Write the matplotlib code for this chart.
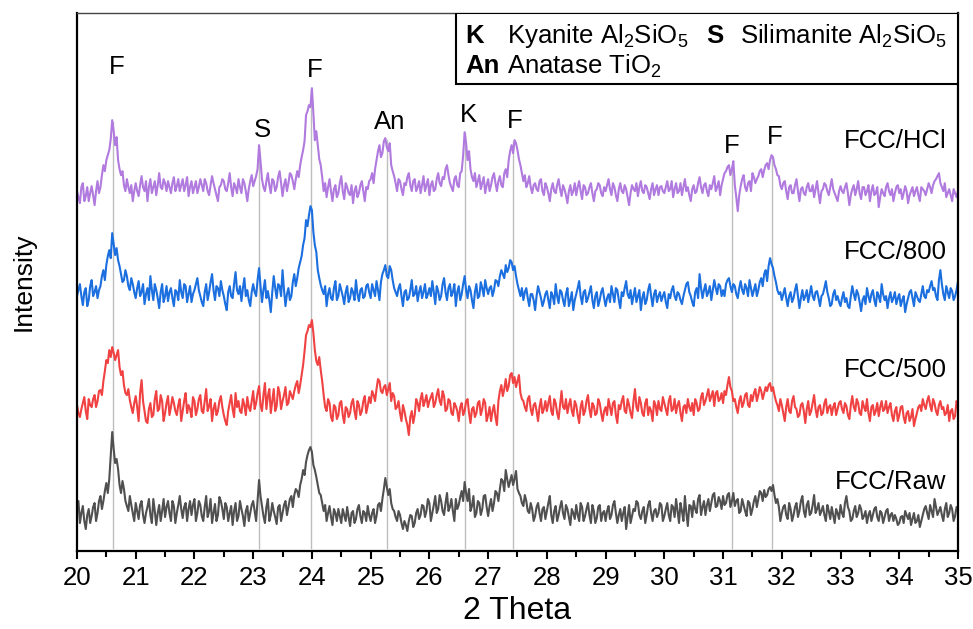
import numpy as np
import matplotlib
matplotlib.use("Agg")
import matplotlib.pyplot as plt
from matplotlib.patches import Rectangle

plt.rcParams['font.family'] = ['Liberation Sans', 'DejaVu Sans']
plt.rcParams['mathtext.fontset'] = 'custom'
plt.rcParams['mathtext.rm'] = 'Liberation Sans'

# 2 theta grid: readings at 20.00, 20.05 ... and the points in between (20.025, 20.075 ...)
two_theta = np.round(np.arange(20, 35.0001, 0.025), 3)

# intensities (arbitrary units), one row per degree
raw = [40, 28, 45, 22, 42, 35, 48, 38, 55, 50, 68, 72, 119, 88, 82, 58, 62, 45, 55, 38,
       48, 32, 50, 28, 44, 36, 52, 26, 46, 40, 34, 50, 30, 45, 38, 55, 33, 48, 42, 36,
       52, 38, 46, 30, 55, 40, 28, 47, 36, 50, 32, 44, 38, 26, 48, 35, 42, 25, 45, 38,
       50, 30, 71, 45, 28, 52, 36, 40, 27, 46, 38, 50, 44, 55, 56, 60, 66, 81, 89, 101,
       99, 81, 66, 56, 40, 30, 45, 26, 38, 42, 28, 36, 44, 25, 40, 32, 46, 28, 38, 45,
       30, 42, 35, 48, 52, 73, 56, 48, 40, 30, 36, 22, 26, 30, 35, 28, 42, 36, 45, 40,
       48, 38, 55, 42, 50, 36, 58, 44, 40, 52, 46, 60, 69, 50, 40, 55, 38, 48, 42, 56,
       35, 52, 48, 58, 62, 70, 81, 64, 76, 72, 62, 55, 45, 50, 38, 42, 35, 48, 30, 44,
       40, 55, 28, 45, 36, 50, 32, 42, 26, 38, 46, 30, 44, 35, 48, 28, 40, 33, 46, 38,
       30, 45, 36, 50, 28, 42, 38, 22, 46, 35, 40, 48, 32, 44, 36, 50, 30, 42, 38, 46,
       35, 48, 30, 44, 52, 28, 40, 55, 25, 45, 50, 38, 56, 44, 36, 52, 48, 58, 45, 50,
       55, 48, 58, 50, 45, 52, 40, 46, 35, 48, 42, 55, 52, 58, 61, 56, 64, 66, 48, 44,
       38, 46, 32, 42, 36, 48, 40, 55, 34, 50, 38, 56, 42, 36, 45, 30, 40, 44, 28, 38,
       46, 34, 55, 40, 32, 45, 38, 42, 35, 28, 40, 36, 44, 30, 38, 34, 42, 36, 30, 32,
       28, 35, 40, 32, 26, 38, 30, 24, 36, 45, 32, 40, 52, 36, 44, 30, 48, 38, 42, 35,
       40]
raw_mid = [50, 38, 30, 36, 28, 44, 30, 50, 42, 60, 58, 95, 102, 92, 66, 70, 50, 40, 46, 30,
           40, 46, 36, 38, 52, 28, 40, 38, 30, 52, 44, 38, 50, 28, 46, 42, 44, 30, 50, 46,
           30, 50, 35, 44, 34, 52, 38, 30, 54, 42, 48, 30, 45, 40, 30, 50, 35, 40, 30, 46,
           40, 50, 55, 35, 44, 30, 48, 34, 44, 30, 46, 36, 52, 44, 62, 54, 72, 76, 96, 104,
           86, 74, 58, 48, 46, 38, 34, 42, 30, 35, 42, 30, 34, 38, 28, 42, 35, 40, 30, 36,
           38, 28, 46, 40, 62, 64, 62, 42, 34, 40, 28, 30, 20, 36, 24, 38, 32, 46, 34, 52,
           30, 46, 38, 56, 40, 48, 40, 52, 30, 42, 54, 50, 58, 62, 45, 34, 50, 36, 55, 44,
           45, 40, 60, 50, 72, 60, 72, 70, 66, 80, 58, 48, 56, 40, 48, 30, 44, 38, 42, 32,
           48, 36, 40, 30, 44, 38, 46, 34, 42, 32, 36, 48, 30, 42, 36, 46, 28, 44, 30, 40,
           40, 32, 46, 38, 36, 30, 44, 34, 28, 42, 50, 36, 40, 28, 46, 38, 40, 34, 48, 30,
           42, 36, 46, 34, 40, 48, 30, 38, 46, 34, 42, 52, 36, 50, 46, 40, 56, 44, 54, 42,
           46, 56, 44, 58, 50, 38, 52, 40, 50, 36, 50, 44, 60, 50, 54, 62, 60, 56, 52, 30,
           44, 36, 48, 30, 44, 34, 50, 40, 46, 36, 46, 38, 48, 40, 36, 46, 32, 36, 42, 32,
           38, 48, 44, 30, 40, 34, 46, 32, 40, 36, 30, 42, 34, 40, 28, 40, 30, 38, 36, 26,
           34, 28, 36, 38, 32, 28, 36, 30, 42, 38, 46, 34, 44, 40, 36, 42, 34, 46, 30, 44]

fcc500 = [46, 34, 48, 40, 52, 44, 56, 50, 61, 70, 91, 101, 104, 91, 101, 76, 66, 56, 51, 38,
          55, 30, 71, 40, 28, 48, 36, 60, 42, 50, 38, 55, 44, 48, 36, 52, 40, 58, 46, 34,
          50, 42, 56, 38, 62, 45, 30, 48, 40, 55, 36, 26, 48, 42, 58, 50, 38, 46, 54, 40,
          60, 48, 65, 40, 68, 55, 38, 62, 45, 58, 50, 64, 48, 56, 60, 70, 66, 86, 116, 126,
          131, 101, 86, 81, 56, 40, 48, 30, 44, 36, 50, 28, 42, 38, 52, 32, 46, 40, 55, 45,
          48, 56, 62, 70, 58, 66, 62, 50, 55, 44, 38, 46, 32, 16, 40, 36, 48, 52, 45, 56,
          50, 58, 48, 62, 46, 55, 42, 50, 36, 45, 30, 48, 40, 52, 28, 44, 38, 50, 42, 48,
          36, 30, 46, 26, 60, 55, 72, 65, 78, 74, 70, 58, 50, 40, 55, 36, 48, 30, 52, 42,
          40, 55, 36, 48, 32, 60, 42, 38, 52, 35, 46, 28, 50, 40, 56, 34, 45, 38, 48, 30,
          44, 52, 36, 50, 28, 42, 55, 38, 46, 33, 62, 40, 48, 35, 52, 44, 30, 46, 50, 40,
          48, 36, 55, 42, 38, 50, 30, 46, 52, 40, 36, 48, 42, 58, 50, 62, 55, 45, 60, 52,
          48, 56, 74, 60, 52, 38, 55, 48, 58, 44, 50, 62, 56, 60, 58, 60, 68, 64, 50, 40,
          46, 30, 52, 38, 55, 42, 36, 48, 28, 50, 40, 56, 34, 46, 38, 52, 44, 36, 48, 42,
          50, 38, 45, 32, 55, 40, 48, 36, 44, 52, 30, 46, 40, 35, 50, 42, 38, 48, 30, 44,
          36, 45, 28, 40, 34, 25, 38, 46, 52, 42, 55, 40, 48, 36, 50, 44, 38, 30, 42, 35,
          45]
fcc500_mid = [38, 42, 54, 32, 46, 52, 44, 60, 56, 80, 88, 94, 98, 96, 84, 80, 58, 62, 44, 48,
              44, 58, 50, 30, 42, 34, 52, 40, 56, 30, 48, 36, 54, 40, 46, 30, 50, 38, 42, 54,
              36, 52, 40, 50, 40, 52, 42, 36, 50, 44, 30, 40, 56, 34, 44, 40, 52, 36, 44, 50,
              42, 58, 46, 56, 42, 62, 50, 40, 64, 42, 56, 46, 60, 52, 66, 58, 76, 100, 120, 124,
              118, 90, 94, 70, 44, 52, 34, 46, 32, 48, 36, 44, 34, 48, 40, 50, 36, 50, 38, 54,
              60, 50, 72, 60, 64, 56, 68, 58, 42, 50, 30, 40, 26, 34, 28, 52, 40, 58, 50, 44,
              54, 44, 56, 50, 60, 40, 52, 38, 48, 40, 44, 36, 50, 38, 42, 34, 48, 36, 52, 30,
              44, 40, 34, 50, 66, 62, 60, 76, 68, 64, 76, 52, 44, 52, 42, 46, 40, 44, 38, 50,
              48, 40, 52, 38, 46, 44, 52, 46, 40, 50, 36, 44, 36, 50, 42, 48, 36, 52, 38, 40,
              36, 44, 48, 36, 46, 50, 40, 52, 38, 50, 44, 54, 38, 48, 36, 40, 50, 36, 42, 54,
              42, 50, 40, 52, 46, 38, 44, 38, 44, 48, 52, 40, 54, 46, 56, 50, 60, 58, 50, 58,
              60, 66, 64, 50, 44, 50, 44, 56, 46, 56, 58, 50, 64, 52, 64, 66, 60, 56, 46, 52,
              38, 44, 40, 50, 44, 34, 46, 40, 42, 36, 48, 42, 44, 36, 48, 38, 46, 44, 36, 48,
              42, 48, 36, 46, 44, 52, 38, 50, 40, 38, 44, 36, 48, 44, 40, 50, 44, 36, 40, 30,
              44, 34, 38, 30, 42, 32, 44, 40, 46, 50, 46, 52, 40, 46, 42, 36, 46, 40, 32, 50]

fcc800 = [40, 52, 31, 48, 36, 56, 44, 38, 50, 66, 71, 86, 103, 81, 76, 62, 56, 60, 46, 52,
          38, 55, 44, 32, 48, 60, 36, 46, 28, 52, 40, 35, 48, 30, 44, 56, 38, 50, 42, 34,
          46, 58, 40, 30, 52, 44, 62, 36, 48, 55, 40, 26, 50, 38, 64, 42, 35, 58, 46, 30,
          52, 40, 68, 34, 56, 45, 24, 60, 38, 50, 66, 30, 48, 40, 62, 58, 74, 91, 116, 121,
          126, 91, 66, 51, 42, 30, 48, 36, 55, 40, 46, 32, 50, 38, 44, 56, 35, 48, 40, 52,
          38, 46, 55, 36, 62, 71, 58, 66, 48, 40, 52, 30, 46, 38, 56, 42, 35, 50, 44, 38,
          48, 55, 32, 45, 40, 58, 36, 52, 44, 30, 50, 42, 60, 38, 46, 28, 52, 40, 48, 56,
          42, 50, 46, 55, 60, 62, 71, 68, 74, 70, 52, 40, 36, 48, 30, 42, 26, 50, 38, 35,
          45, 28, 40, 52, 33, 44, 30, 48, 36, 26, 42, 55, 32, 46, 38, 50, 28, 44, 36, 48,
          30, 42, 50, 34, 46, 28, 40, 55, 38, 32, 48, 40, 26, 44, 36, 52, 30, 46, 40, 35,
          44, 28, 38, 50, 36, 42, 32, 46, 54, 40, 30, 48, 62, 38, 52, 44, 36, 56, 42, 50,
          46, 52, 58, 44, 50, 38, 55, 42, 48, 56, 40, 52, 46, 58, 62, 55, 78, 68, 54, 42,
          36, 48, 30, 44, 38, 52, 28, 46, 40, 34, 50, 36, 45, 30, 42, 55, 38, 32, 46, 40,
          30, 44, 38, 28, 50, 36, 42, 25, 40, 48, 34, 46, 30, 40, 52, 36, 28, 44, 38, 32,
          42, 36, 24, 38, 46, 30, 40, 34, 50, 38, 44, 55, 48, 36, 66, 42, 50, 38, 45, 40,
          55]
fcc800_mid = [46, 40, 44, 30, 50, 40, 50, 46, 60, 56, 80, 78, 92, 88, 70, 54, 66, 50, 58, 44,
              48, 40, 52, 42, 36, 46, 52, 38, 44, 34, 50, 44, 38, 46, 36, 44, 52, 34, 50, 42,
              52, 46, 34, 44, 36, 54, 46, 50, 40, 46, 32, 44, 40, 52, 46, 50, 48, 40, 36, 44,
              44, 56, 50, 46, 38, 36, 44, 48, 52, 40, 46, 42, 36, 54, 50, 68, 80, 98, 110, 130,
              104, 84, 58, 46, 50, 42, 38, 48, 36, 52, 40, 44, 34, 48, 36, 42, 46, 38, 50, 44,
              52, 40, 46, 54, 66, 60, 70, 56, 44, 48, 40, 44, 36, 46, 40, 50, 44, 38, 52, 42,
              40, 44, 50, 36, 52, 44, 48, 40, 52, 44, 36, 52, 46, 50, 36, 44, 38, 54, 40, 48,
              48, 40, 56, 50, 66, 58, 64, 76, 66, 60, 46, 48, 44, 38, 42, 36, 40, 44, 30, 42,
              36, 44, 32, 40, 46, 36, 42, 30, 44, 36, 48, 40, 44, 34, 44, 36, 40, 30, 44, 38,
              38, 34, 42, 48, 36, 44, 48, 42, 46, 40, 34, 46, 38, 32, 46, 40, 42, 34, 44, 40,
              34, 42, 46, 40, 44, 36, 40, 52, 44, 34, 44, 38, 48, 46, 40, 50, 46, 48, 52, 40,
              40, 56, 50, 52, 42, 48, 46, 52, 40, 48, 46, 40, 54, 50, 66, 70, 72, 60, 46, 44,
              42, 38, 40, 34, 46, 40, 38, 36, 46, 42, 40, 44, 38, 40, 48, 44, 30, 42, 36, 34,
              38, 34, 30, 40, 42, 46, 34, 36, 32, 40, 42, 36, 44, 34, 42, 40, 38, 34, 44, 38,
              30, 40, 32, 44, 38, 44, 36, 42, 40, 46, 50, 46, 40, 56, 52, 36, 44, 48, 36, 46]

hcl = [40, 28, 48, 35, 30, 45, 26, 50, 44, 66, 71, 81, 111, 86, 71, 56, 46, 52, 38, 30,
       48, 35, 55, 40, 30, 52, 44, 36, 58, 42, 48, 50, 38, 54, 45, 40, 52, 46, 35, 50,
       44, 38, 52, 40, 48, 36, 55, 42, 30, 46, 50, 40, 58, 35, 44, 52, 38, 48, 30, 50,
       45, 55, 86, 52, 40, 58, 38, 50, 44, 60, 35, 52, 48, 56, 42, 60, 66, 81, 116, 126,
       143, 91, 86, 66, 40, 34, 52, 30, 46, 38, 55, 32, 44, 36, 28, 45, 38, 50, 30, 42,
       52, 48, 71, 86, 78, 93, 80, 66, 55, 40, 50, 36, 46, 58, 40, 52, 44, 38, 55, 46,
       36, 50, 42, 58, 45, 52, 66, 48, 40, 55, 44, 60, 99, 71, 62, 50, 44, 56, 48, 38,
       52, 46, 58, 40, 55, 44, 62, 71, 86, 91, 81, 66, 50, 44, 55, 38, 48, 40, 52, 36,
       44, 30, 48, 38, 52, 35, 42, 28, 46, 40, 36, 50, 32, 44, 38, 48, 30, 42, 46, 35,
       40, 52, 36, 44, 30, 48, 38, 42, 26, 46, 40, 35, 50, 38, 44, 32, 48, 42, 36, 45,
       38, 50, 42, 34, 48, 40, 36, 52, 44, 30, 46, 40, 54, 38, 48, 35, 42, 55, 44, 36,
       52, 60, 66, 62, 46, 20, 45, 56, 40, 50, 58, 48, 55, 62, 61, 68, 71, 74, 62, 55,
       42, 50, 32, 46, 38, 52, 30, 44, 36, 48, 40, 34, 50, 28, 42, 46, 36, 52, 38, 30,
       45, 38, 48, 26, 42, 36, 50, 32, 44, 40, 30, 46, 38, 24, 42, 35, 48, 36, 30, 44,
       38, 32, 45, 28, 40, 35, 44, 30, 42, 36, 48, 38, 50, 55, 48, 40, 34, 42, 30, 38,
       40]
hcl_mid = [34, 44, 30, 44, 38, 36, 40, 38, 56, 60, 76, 92, 100, 94, 62, 60, 40, 44, 46, 40,
           40, 46, 44, 50, 44, 38, 50, 46, 44, 52, 40, 44, 48, 40, 52, 46, 40, 54, 44, 38,
           50, 44, 46, 52, 40, 46, 48, 36, 44, 52, 42, 48, 44, 48, 38, 44, 52, 40, 42, 56,
           50, 62, 70, 44, 50, 46, 52, 40, 54, 48, 46, 40, 58, 50, 52, 54, 74, 90, 120, 124,
           118, 100, 72, 54, 48, 44, 40, 42, 34, 48, 40, 48, 38, 46, 40, 34, 46, 40, 44, 50,
           58, 62, 80, 74, 90, 84, 88, 60, 48, 52, 42, 48, 54, 46, 50, 40, 50, 46, 40, 52,
           46, 40, 52, 48, 54, 62, 56, 44, 52, 46, 58, 76, 88, 80, 54, 58, 50, 42, 54, 46,
           40, 54, 48, 50, 46, 58, 54, 80, 78, 88, 72, 58, 56, 48, 44, 46, 42, 50, 40, 48,
           38, 42, 40, 46, 42, 46, 36, 40, 36, 48, 44, 40, 46, 36, 44, 38, 40, 48, 38, 44,
           46, 42, 48, 36, 42, 40, 46, 34, 38, 42, 48, 44, 40, 46, 38, 42, 36, 46, 44, 40,
           44, 40, 50, 42, 38, 48, 44, 40, 36, 42, 38, 48, 44, 46, 40, 46, 48, 40, 50, 46,
           58, 64, 56, 70, 34, 36, 52, 44, 48, 40, 54, 52, 60, 54, 66, 62, 76, 66, 56, 46,
           48, 40, 44, 38, 46, 40, 42, 38, 44, 40, 46, 42, 38, 40, 48, 40, 44, 42, 34, 40,
           40, 44, 38, 36, 46, 42, 38, 44, 36, 46, 40, 36, 44, 34, 38, 44, 40, 42, 38, 46,
           42, 38, 40, 36, 44, 40, 36, 44, 40, 42, 44, 46, 52, 58, 44, 48, 38, 36, 42, 34]

sample_names = ['FCC/Raw', 'FCC/500', 'FCC/800', 'FCC/HCl']
offsets = [0, 100, 215, 320]
colors = ['#505050', '#f04242', '#1c6fdf', '#b07ade']

# phase reflections
peak_pos = [20.62, 23.10, 23.98, 25.27, 26.60, 27.43, 31.15, 31.83]
peak_lab = ['F', 'S', 'F', 'An', 'K', 'F', 'F', 'F']
line_top = [429, 404, 461, 411, 418, 409, 385, 393]
lab_x = [20.68, 23.15, 24.05, 25.33, 26.66, 27.46, 31.14, 31.88]
lab_y = [484, 421, 481, 429, 436, 430, 405, 414]


def merge(main, mid):
    assert len(main) == 301 and len(mid) == 300, (len(main), len(mid))
    out = np.empty(601)
    out[0::2] = main
    out[1::2] = mid
    return out


fig = plt.figure(figsize=(9.73, 6.29), dpi=100)
ax = fig.add_axes([0.0791, 0.124, 0.9055, 0.855])

for p, top in zip(peak_pos, line_top):
    ax.plot([p, p], [3, top], color='#bdbdbd', lw=1, zorder=1)

series = [merge(raw, raw_mid), merge(fcc500, fcc500_mid),
          merge(fcc800, fcc800_mid), merge(hcl, hcl_mid)]
for s, off, c in zip(series, offsets, colors):
    ax.plot(two_theta, s + off, color=c, lw=1.5, zorder=2)

for lx, ly, t in zip(lab_x, lab_y, peak_lab):
    ax.text(lx, ly, t, fontsize=18.5, ha='center', va='center')

label_y = [69, 181, 299, 410]
for name, ly in zip(sample_names, label_y):
    ax.text(34.81, ly, name, fontsize=18.5, ha='right', va='center')

# phase key box
ax.add_patch(Rectangle((0.430, 0.868), 0.57, 0.132, transform=ax.transAxes,
                       facecolor='white', edgecolor='black', lw=1.5, zorder=5))
kw = dict(transform=ax.transAxes, fontsize=18.5, va='center', zorder=6)
ax.text(0.4404, 0.958, 'K', fontweight='bold', **kw)
ax.text(0.488, 0.958, r'Kyanite Al$_\mathregular{2}$SiO$_\mathregular{5}$', **kw)
ax.text(0.714, 0.958, 'S', fontweight='bold', **kw)
ax.text(0.7526, 0.958, r'Silimanite Al$_\mathregular{2}$SiO$_\mathregular{5}$', **kw)
ax.text(0.4404, 0.902, 'An', fontweight='bold', **kw)
ax.text(0.488, 0.902, r'Anatase TiO$_\mathregular{2}$', **kw)

ax.set_xlim(20, 35)
ax.set_ylim(0, 538)
ax.set_xticks(np.arange(20, 36, 1))
ax.set_xticks(np.arange(20.5, 35, 1), minor=True)
ax.set_yticks([])
ax.tick_params(axis='x', which='major', direction='out', length=6, width=1.5,
               labelsize=18.5, pad=5)
ax.tick_params(axis='x', which='minor', direction='out', length=4, width=1.5)
for sp in ['left', 'bottom', 'right']:
    ax.spines[sp].set_linewidth(1.6)
ax.spines['top'].set_linewidth(1.0)
ax.spines['top'].set_color('#444444')

ax.set_xlabel('2 Theta', fontsize=23, labelpad=4)
ax.set_ylabel('Intensity', fontsize=19, labelpad=30)

fig.savefig('out.png', dpi=100)
